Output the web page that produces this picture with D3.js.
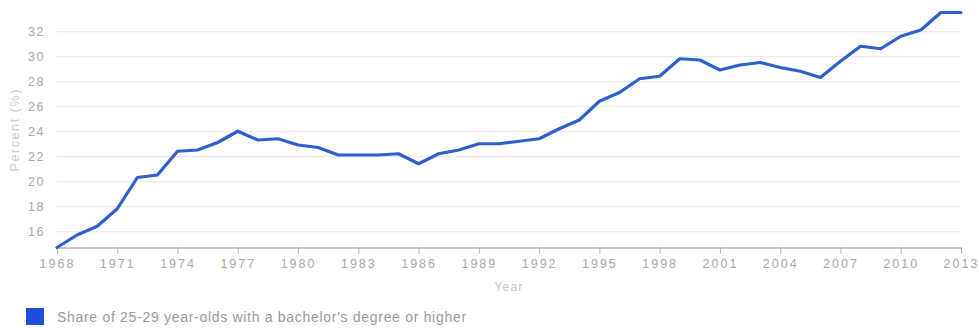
<!DOCTYPE html>
<html>
<head>
<meta charset="utf-8">
<script src="https://cdn.jsdelivr.net/npm/d3@7"></script>
<style>
  html, body { margin: 0; padding: 0; background: #fff; }
  svg { display: block; font-family: "Liberation Sans", Arial, sans-serif; }
</style>
</head>
<body>
<svg id="chart" width="979" height="328"></svg>
<script>
// Share of 25-29 year-olds holding a bachelor's degree or higher, by year
const years = [
  1968, 1969, 1970, 1971, 1972, 1973, 1974, 1975, 1976, 1977,
  1978, 1979, 1980, 1981, 1982, 1983, 1984, 1985, 1986, 1987,
  1988, 1989, 1990, 1991, 1992, 1993, 1994, 1995, 1996, 1997,
  1998, 1999, 2000, 2001, 2002, 2003, 2004, 2005, 2006, 2007,
  2008, 2009, 2010, 2011, 2012, 2013
];
const share = [
  14.7, 15.7, 16.4, 17.8, 20.3, 20.5, 22.4, 22.5, 23.1, 24.0,
  23.3, 23.4, 22.9, 22.7, 22.1, 22.1, 22.1, 22.2, 21.4, 22.2,
  22.5, 23.0, 23.0, 23.2, 23.4, 24.2, 24.9, 26.4, 27.1, 28.2,
  28.4, 29.8, 29.7, 28.9, 29.3, 29.5, 29.1, 28.8, 28.3, 29.6,
  30.8, 30.6, 31.6, 32.1, 33.5, 33.5
];
const yTicks = [16, 18, 20, 22, 24, 26, 28, 30, 32];
const xTicks = [1968, 1971, 1974, 1977, 1980, 1983, 1986, 1989, 1992,
                1995, 1998, 2001, 2004, 2007, 2010, 2013];
const seriesLabel = "Share of 25-29 year-olds with a bachelor's degree or higher";
const xTitle = "Year";
const yTitle = "Percent (%)";

const svg = d3.select("#chart");
const plotLeft = 57, plotRight = 961, plotTop = 12, plotBottom = 247.5;

const x = d3.scaleLinear().domain([1968, 2013]).range([plotLeft, plotRight]);
const y = d3.scaleLinear().domain([14.7, 33.54]).range([plotBottom, plotTop]);

const textColor = "#a8a8a8";

// horizontal gridlines
const yAxis = d3.axisLeft(y).tickValues(yTicks).tickSize(-(plotRight - plotLeft)).tickPadding(12);
const gy = svg.append("g").attr("transform", `translate(${plotLeft},0)`).call(yAxis);
gy.select(".domain").remove();
gy.selectAll(".tick line").attr("stroke", "#e6e6e6").attr("stroke-width", 1);
gy.selectAll(".tick text")
  .attr("fill", textColor)
  .attr("font-size", 12.5)
  .attr("letter-spacing", 1.5)
  .attr("font-family", "Liberation Sans, Arial, sans-serif");

// bottom axis with downward ticks
const xAxis = d3.axisBottom(x).tickValues(xTicks).tickFormat(d3.format("d"))
  .tickSize(6).tickSizeOuter(0).tickPadding(6);
const gx = svg.append("g").attr("transform", `translate(0,${plotBottom})`).call(xAxis);
gx.select(".domain").attr("stroke", "#c8c8c8").attr("stroke-width", 2);
gx.selectAll(".tick line").attr("stroke", "#b0b0b0");
gx.selectAll(".tick text")
  .attr("fill", textColor)
  .attr("font-size", 12.5)
  .attr("letter-spacing", 2)
  .attr("font-family", "Liberation Sans, Arial, sans-serif");

// axis titles
svg.append("text")
  .attr("x", (plotLeft + plotRight) / 2).attr("y", 291)
  .attr("text-anchor", "middle")
  .attr("fill", "#c4c4c4").attr("font-size", 12)
  .attr("letter-spacing", 1.2)
  .text(xTitle);
svg.append("text")
  .attr("transform", `translate(19,${(plotTop + plotBottom) / 2}) rotate(-90)`)
  .attr("text-anchor", "middle")
  .attr("fill", "#cccccc").attr("font-size", 12.5)
  .attr("letter-spacing", 1.6)
  .text(yTitle);

// data line
const line = d3.line().x((d, i) => x(years[i])).y(d => y(d));
svg.append("path")
  .datum(share)
  .attr("d", line)
  .attr("fill", "none")
  .attr("stroke", "#2f5fcf")
  .attr("stroke-width", 3.2)
  .attr("stroke-linejoin", "round")
  .attr("stroke-linecap", "round");

// legend
const legend = svg.append("g").attr("transform", "translate(26,308)");
legend.append("rect")
  .attr("width", 18).attr("height", 17)
  .attr("fill", "#1f4fd8");
legend.append("text")
  .attr("x", 31).attr("y", 14)
  .attr("fill", "#9a9a9a").attr("font-size", 14)
  .attr("letter-spacing", 0.7)
  .text(seriesLabel);
</script>
</body>
</html>
